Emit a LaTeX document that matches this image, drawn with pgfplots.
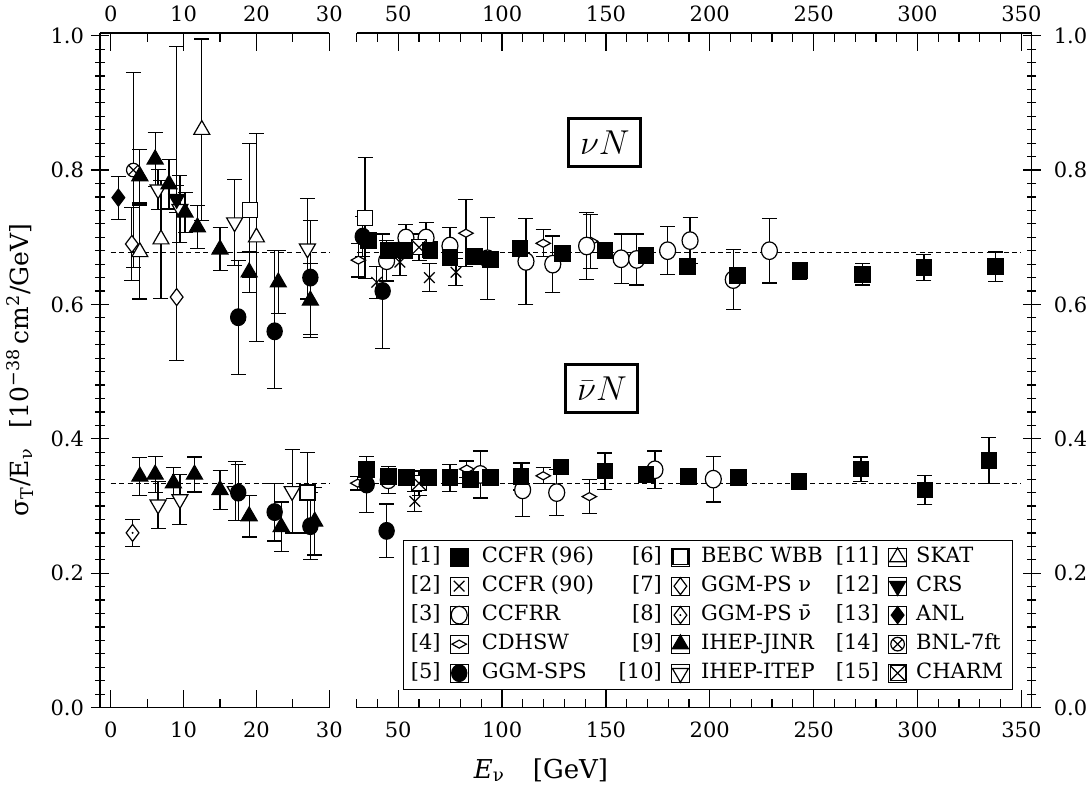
\documentclass[border=0pt]{standalone}
\usepackage{fontspec}
\setmainfont{DejaVu Serif}
\usepackage{pgfplots}
\pgfplotsset{compat=1.18}
\usetikzlibrary{plotmarks}

\pgfdeclareplotmark{boxx}{%
  \pgfpathrectangle{\pgfqpoint{-\pgfplotmarksize}{-\pgfplotmarksize}}{\pgfqpoint{2\pgfplotmarksize}{2\pgfplotmarksize}}%
  \pgfusepathqfillstroke
  \pgfpathmoveto{\pgfqpoint{-\pgfplotmarksize}{-\pgfplotmarksize}}\pgfpathlineto{\pgfqpoint{\pgfplotmarksize}{\pgfplotmarksize}}%
  \pgfpathmoveto{\pgfqpoint{-\pgfplotmarksize}{\pgfplotmarksize}}\pgfpathlineto{\pgfqpoint{\pgfplotmarksize}{-\pgfplotmarksize}}%
  \pgfusepathqstroke}
\pgfdeclareplotmark{diamonddot}{%
  \pgfpathmoveto{\pgfqpoint{0pt}{\pgfplotmarksize}}%
  \pgfpathlineto{\pgfqpoint{.75\pgfplotmarksize}{0pt}}%
  \pgfpathlineto{\pgfqpoint{0pt}{-\pgfplotmarksize}}%
  \pgfpathlineto{\pgfqpoint{-.75\pgfplotmarksize}{0pt}}%
  \pgfpathclose
  \pgfusepathqfillstroke
  \pgfscope\pgfsetfillcolor{black}\pgfpathcircle{\pgfpointorigin}{0.55pt}\pgfusepathqfill\endpgfscope}

\pgfplotsset{
  legend image code/.code={\path (-4.5pt,-4.5pt) rectangle (4.5pt,4.5pt); \draw[#1] plot coordinates {(0pt,0pt)};},
  pt/.style={only marks, black, line width=0.6pt,
    error bars/y dir=both, error bars/y explicit,
    error bars/error bar style={line width=0.6pt, black},
    error bars/error mark options={rotate=90, mark size=3.75pt, line width=0.6pt, black}},
  ccfrA/.style={pt, mark=square*, mark size=3.9pt, mark options={fill=black}},
  ccfrB/.style={pt, mark=x, mark size=3.75pt},
  ccfrr/.style={pt, mark=*, mark size=4pt, mark options={fill=white, yscale=1.1}},
  cdhsw/.style={pt, mark=diamond*, mark size=4pt, mark options={fill=white, xscale=1.2, yscale=0.5}},
  ggmsps/.style={pt, mark=*, mark size=3.8pt, mark options={fill=black, yscale=1.1}},
  bebc/.style={pt, mark=square*, mark size=3.75pt, mark options={fill=white}},
  ggmnu/.style={pt, mark=diamond*, mark size=4.25pt, mark options={fill=white}},
  ggmnub/.style={pt, mark=diamonddot, mark size=4.25pt, mark options={fill=white}},
  jinr/.style={pt, mark=triangle*, mark size=4.6pt, mark options={fill=black}},
  itep/.style={pt, mark=triangle*, mark size=4.6pt, mark options={fill=white, rotate=180}},
  skat/.style={pt, mark=triangle*, mark size=4.6pt, mark options={fill=white}},
  crs/.style={pt, mark=triangle*, mark size=4.6pt, mark options={fill=black, rotate=180}},
  anl/.style={pt, mark=diamond*, mark size=4.25pt, mark options={fill=black}},
  bnl/.style={pt, mark=otimes*, mark size=3.4pt, mark options={fill=white}},
  charm/.style={pt, mark=boxx, mark size=3.75pt, mark options={fill=white}},
  meanline/.style={black, line width=0.5pt, dash pattern=on 2.5pt off 1.7pt, forget plot},
  panel/.style={scale only axis, height=337.3pt, ymin=0, ymax=1.004, clip=false,
    ytick={0,0.2,0.4,0.6,0.8,1.0}, minor y tick num=9,
    axis x line=box,
    tick align=inside, major tick length=9pt, minor tick length=4.5pt,
    tick style={black, line width=0.6pt},
    axis line style={black, line width=0.75pt},
    every non boxed y axis/.append style={y axis line style={-}},
    y axis line style={-},
    tick label style={font=\fontsize{10.5}{12}\selectfont},
    xticklabel style={/pgf/number format/assume math mode=true, yshift=-3.5pt},
    yticklabel style={/pgf/number format/fixed, /pgf/number format/fixed zerofill,
      /pgf/number format/precision=1, /pgf/number format/assume math mode=true}},
  toplabels/.style={scale only axis, height=337.3pt, ymin=0, ymax=1.004,
    axis x line=top, axis y line=none, x axis line style={draw=none},
    every non boxed x axis/.append style={x axis line style={draw=none}},
    ytick=\empty, major tick length=0pt, minor tick length=0pt,
    tick label style={font=\fontsize{10.5}{12}\selectfont},
    xticklabel style={/pgf/number format/assume math mode=true, yshift=2.3pt}},
}
\newcommand{\Na}[1]{\makebox[20.5pt][l]{\makebox[16pt][r]{#1}}}
\newcommand{\Nc}[1]{\makebox[25pt][l]{\makebox[20.5pt][r]{#1}}}
\newcommand{\Ta}[1]{\makebox[80.5pt][l]{\hspace{6.5pt}#1}}
\newcommand{\Tb}[1]{\makebox[74pt][l]{\hspace{5.5pt}#1}}
\newcommand{\Tc}[1]{\makebox[50pt][l]{\hspace{4.5pt}#1}}

\begin{document}
\begin{tikzpicture}
\path[use as bounding box] (-50pt,-42.7pt) rectangle (493pt,353.8pt);

% ---------------- left panel ----------------
\begin{axis}[panel, at={(0pt,0pt)}, anchor=south west, width=114.65pt,
  xmin=-1.47, xmax=30, xtick={0,10,20,30}, minor xtick={5,15,25},
  axis y line=left]
\addplot[meanline] coordinates {(0,0.677) (30,0.677)};
\addplot[meanline] coordinates {(0,0.334) (30,0.334)};
\addplot[anl, forget plot] coordinates {(1.05,0.759) +- (0,0.032)};
\addplot[ggmnu, forget plot] coordinates {(2.9,0.690) +- (0,0.054) (9.05,0.611) += (0,0.373) -= (0,0.095)};
\addplot[ggmnub, forget plot] coordinates {(3.0,0.260) +- (0,0.020)};
\addplot[bnl, forget plot] coordinates {(3.1,0.800) +- (0,0.145)};
\addplot[skat, forget plot] coordinates {(4.0,0.678) +- (0,0.070) (6.9,0.697) +- (0,0.088) (12.5,0.860) +- (0,0.135) (20.0,0.700) +- (0,0.155)};
\addplot[bebc, forget plot] coordinates {(19.1,0.740) +- (0,0.100) (27.0,0.320) +- (0,0.060)};
\addplot[itep, forget plot] coordinates {(6.5,0.771) +- (0,0.030) (9.5,0.742) +- (0,0.050) (17.0,0.722) +- (0,0.064) (27.0,0.683) +- (0,0.075)
  (6.5,0.302) +- (0,0.035) (9.5,0.310) +- (0,0.037) (17.1,0.322) +- (0,0.044) (24.9,0.322) +- (0,0.062)};
\addplot[ggmsps, forget plot] coordinates {(17.5,0.581) +- (0,0.085) (22.5,0.560) += (0,0.120) -= (0,0.085) (27.4,0.640) +- (0,0.085)
  (17.5,0.320) +- (0,0.042) (22.5,0.291) +- (0,0.043) (27.4,0.270) +- (0,0.050)};
\addplot[jinr, forget plot] coordinates {(4.0,0.791) +- (0,0.040) (6.1,0.816) +- (0,0.040) (8.0,0.779) +- (0,0.037) (10.2,0.737) +- (0,0.030) (11.9,0.715) +- (0,0.032) (15.0,0.682) +- (0,0.032) (19.0,0.648) +- (0,0.030) (23.0,0.633) +- (0,0.047) (27.4,0.606) +- (0,0.055)
  (4.0,0.344) +- (0,0.028) (6.1,0.347) +- (0,0.027) (8.6,0.334) +- (0,0.023) (11.5,0.347) +- (0,0.026) (15.0,0.324) +- (0,0.029) (19.0,0.285) +- (0,0.031) (23.4,0.269) +- (0,0.037) (28.0,0.277) +- (0,0.050)};
\addplot[crs, forget plot] coordinates {(9.05,0.757) +- (0,0.020)};
\end{axis}
\begin{axis}[toplabels, at={(0pt,0pt)}, anchor=south west, width=114.65pt,
  xmin=-1.47, xmax=30, xtick={0,10,20,30}]
\end{axis}

% ---------------- right panel ----------------
\begin{axis}[panel, at={(128.35pt,0pt)}, anchor=south west, width=337.5pt,
  xmin=30, xmax=355, xtick={50,100,...,350}, minor xtick={30,40,...,350},
  axis y line=right,
  yticklabel style={xshift=3pt},
  legend columns=6,
  legend style={at={(0.0686,0.2484)}, anchor=north west, draw=black, line width=0.6pt,
    inner sep=2.5pt, column sep=0pt, row sep=3pt,
    nodes={inner sep=0pt, text height=8.5pt, text depth=3pt},
    font=\fontsize{10.5}{12}\selectfont}]
\addplot[meanline] coordinates {(30,0.677) (350,0.677)};
\addplot[meanline] coordinates {(30,0.334) (350,0.334)};
\addplot[bebc, forget plot] coordinates {(34.0,0.729) +- (0,0.090)};
\addplot[cdhsw, forget plot] coordinates {(30.8,0.666) +- (0,0.025) (82.6,0.706) +- (0,0.050) (119.8,0.691) +- (0,0.020) (142.7,0.694) +- (0,0.040)
  (30.5,0.334) +- (0,0.010) (83.0,0.355) +- (0,0.012) (119.8,0.345) +- (0,0.012) (142.0,0.314) +- (0,0.025)};
\addplot[ccfrr, forget plot] coordinates {(44.4,0.665) +- (0,0.030) (53.7,0.699) +- (0,0.020) (63.4,0.699) +- (0,0.023) (74.9,0.687) +- (0,0.028) (93.0,0.668) +- (0,0.061) (111.5,0.664) +- (0,0.064) (124.4,0.660) +- (0,0.042) (140.7,0.687) +- (0,0.050) (157.3,0.668) +- (0,0.037) (164.8,0.667) +- (0,0.038) (179.7,0.680) +- (0,0.036) (190.5,0.695) +- (0,0.034) (211.3,0.637) +- (0,0.045) (228.7,0.680) +- (0,0.048)
  (45.2,0.339) +- (0,0.020) (89.5,0.347) +- (0,0.035) (109.9,0.324) +- (0,0.040) (126.3,0.320) +- (0,0.034) (173.6,0.354) +- (0,0.028) (201.7,0.340) +- (0,0.034)};
\addplot[ccfrB, forget plot] coordinates {(39.6,0.633) +- (0,0.024) (50.8,0.663) +- (0,0.020) (65.0,0.640) +- (0,0.021) (77.8,0.648) +- (0,0.020)
  (58.0,0.307) +- (0,0.015)};
\addplot[charm, forget plot] coordinates {(60.0,0.685) +- (0,0.020) (60.0,0.334) +- (0,0.018)};
\addplot[ggmsps, forget plot] coordinates {(32.9,0.701) +- (0,0.030) (42.5,0.620) +- (0,0.085)
  (34.8,0.332) +- (0,0.042) (44.4,0.263) +- (0,0.040)};
\addplot[ccfrA, forget plot] coordinates {(35.6,0.695) +- (0,0.012) (45.2,0.680) +- (0,0.012) (53.3,0.681) +- (0,0.012) (65.3,0.681) +- (0,0.012) (74.9,0.670) +- (0,0.012) (86.8,0.671) +- (0,0.012) (94.5,0.667) +- (0,0.012) (108.6,0.683) +- (0,0.012) (129.2,0.676) +- (0,0.012) (149.5,0.680) +- (0,0.012) (169.3,0.673) +- (0,0.012) (189.4,0.656) +- (0,0.012) (213.5,0.643) +- (0,0.012) (243.4,0.650) +- (0,0.012) (273.6,0.645) +- (0,0.016) (303.1,0.655) +- (0,0.019) (337.7,0.656) +- (0,0.022)
  (34.8,0.354) +- (0,0.012) (45.2,0.344) +- (0,0.010) (54.1,0.343) +- (0,0.010) (64.5,0.342) +- (0,0.010) (74.9,0.342) +- (0,0.020) (84.6,0.339) +- (0,0.010) (94.5,0.343) +- (0,0.010) (109.1,0.344) +- (0,0.020) (128.4,0.358) +- (0,0.010) (149.5,0.352) +- (0,0.027) (169.3,0.347) +- (0,0.010) (189.7,0.344) +- (0,0.010) (213.7,0.342) +- (0,0.010) (243.0,0.337) +- (0,0.010) (272.8,0.355) +- (0,0.018) (303.6,0.324) +- (0,0.022) (334.4,0.368) +- (0,0.034)};
% legend
\addlegendimage{empty legend}\addlegendentry{\Na{[1]}}
\addlegendimage{ccfrA}\addlegendentry{\Ta{CCFR (96)}}
\addlegendimage{empty legend}\addlegendentry{\Na{[6]}}
\addlegendimage{bebc}\addlegendentry{\Tb{BEBC WBB}}
\addlegendimage{empty legend}\addlegendentry{\Nc{[11]}}
\addlegendimage{skat}\addlegendentry{\Tc{SKAT}}
\addlegendimage{empty legend}\addlegendentry{\Na{[2]}}
\addlegendimage{ccfrB}\addlegendentry{\Ta{CCFR (90)}}
\addlegendimage{empty legend}\addlegendentry{\Na{[7]}}
\addlegendimage{ggmnu}\addlegendentry{\Tb{GGM-PS ν}}
\addlegendimage{empty legend}\addlegendentry{\Nc{[12]}}
\addlegendimage{crs}\addlegendentry{\Tc{CRS}}
\addlegendimage{empty legend}\addlegendentry{\Na{[3]}}
\addlegendimage{ccfrr}\addlegendentry{\Ta{CCFRR}}
\addlegendimage{empty legend}\addlegendentry{\Na{[8]}}
\addlegendimage{ggmnub}\addlegendentry{\Tb{GGM-PS ν̄}}
\addlegendimage{empty legend}\addlegendentry{\Nc{[13]}}
\addlegendimage{anl}\addlegendentry{\Tc{ANL}}
\addlegendimage{empty legend}\addlegendentry{\Na{[4]}}
\addlegendimage{cdhsw}\addlegendentry{\Ta{CDHSW}}
\addlegendimage{empty legend}\addlegendentry{\Na{[9]}}
\addlegendimage{jinr}\addlegendentry{\Tb{IHEP-JINR}}
\addlegendimage{empty legend}\addlegendentry{\Nc{[14]}}
\addlegendimage{bnl}\addlegendentry{\Tc{BNL-7ft}}
\addlegendimage{empty legend}\addlegendentry{\Na{[5]}}
\addlegendimage{ggmsps}\addlegendentry{\Ta{GGM-SPS}}
\addlegendimage{empty legend}\addlegendentry{\Na{[10]}}
\addlegendimage{itep}\addlegendentry{\Tb{IHEP-ITEP}}
\addlegendimage{empty legend}\addlegendentry{\Nc{[15]}}
\addlegendimage{charm}\addlegendentry{\Tc{CHARM}}
% boxed labels
\node[draw=black, line width=1.5pt, minimum width=36pt, minimum height=24pt, inner sep=2pt,
  font=\fontsize{16}{19}\selectfont] at (axis cs:149.5,0.841) {$\nu N$};
\node[draw=black, line width=1.5pt, minimum width=36pt, minimum height=24pt, inner sep=2pt,
  font=\fontsize{16}{19}\selectfont] at (axis cs:148.1,0.4745) {$\bar{\nu} N$};
\end{axis}
\begin{axis}[toplabels, at={(128.35pt,0pt)}, anchor=south west, width=337.5pt,
  xmin=30, xmax=355, xtick={50,100,...,350}]
\end{axis}

% axis titles
\node[rotate=90, font=\fontsize{12.5}{14}\selectfont] at (-40pt,168.8pt)
  {σ\textsubscript{T}/E\textsubscript{ν}\hspace{10pt}[10\textsuperscript{−38}\,cm\textsuperscript{2}/GeV]};
\node[font=\fontsize{13}{15}\selectfont] at (220.5pt,-31.2pt)
  {\textit{E}\textsubscript{ν}\hspace{14pt}[GeV]};
\end{tikzpicture}
\end{document}
